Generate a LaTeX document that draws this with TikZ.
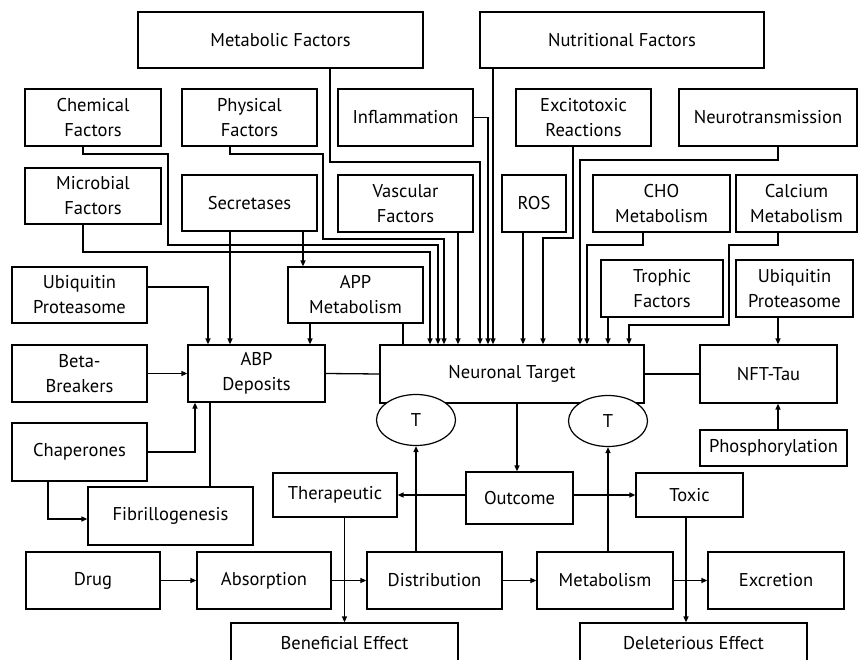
\documentclass[tikz,border=0pt]{standalone}
\usepackage{fontspec}
\setmainfont{PT Sans}
\usepackage{tikz}
\usetikzlibrary{positioning}
\usetikzlibrary{arrows.meta}
\usetikzlibrary{shapes.geometric}

\begin{document}
\begin{tikzpicture}
        [x=1pt,y=-1pt,
         font=\fontsize{18.5}{25}\selectfont,
         every node/.style={inner sep=1pt},
         blk/.style 2 args={draw,line width=1.2pt,fill=white,align=center,
           minimum width=#1,minimum height=#2},
         tee/.style={draw,ellipse,line width=1.2pt,fill=white,
           minimum width=79pt,minimum height=51pt},
         link/.style={line width=1.3pt},
         arr/.style={line width=1.3pt,-{Triangle[length=6pt,width=5pt]}}]
      \useasboundingbox (0,0) rectangle (864,660);
      \clip (0,0) rectangle (864,660);
      \node[blk={285pt}{56pt}] (metab)  at (280.5,40)  {Metabolic Factors};
      \node[blk={284pt}{56pt}] (nutri)  at (622,40)    {Nutritional Factors};
      \node[blk={136pt}{57pt}] (chem)   at (93,117.5)  {Chemical\\Factors};
      \node[blk={135pt}{57pt}] (phys)   at (249.5,117.5) {Physical\\Factors};
      \node[blk={135pt}{57pt}] (infl)   at (405.5,117.5) {Inflammation};
      \node[blk={135pt}{57pt}] (excit)  at (583.5,117.5) {Excitotoxic\\Reactions};
      \node[blk={178pt}{57pt}] (neurot) at (768,117.5) {Neurotransmission};
      \node[blk={136pt}{56pt}] (microb) at (93,196)    {Microbial\\Factors};
      \node[blk={135pt}{56pt}] (secr)   at (249.5,203) {Secretases};
      \node[blk={135pt}{57pt}] (vasc)   at (405.5,203.5) {Vascular\\Factors};
      \node[blk={64pt}{57pt}]  (ros)    at (534,203.5) {ROS};
      \node[blk={137pt}{57pt}] (cho)    at (661.5,203.5) {CHO\\Metabolism};
      \node[blk={121pt}{57pt}] (calc)   at (796.5,203.5) {Calcium\\Metabolism};
      \node[blk={122pt}{57pt}] (troph)  at (662,288.5) {Trophic\\Factors};
      \node[blk={117pt}{57pt}] (ubiR)   at (794.5,288.5) {Ubiquitin\\Proteasome};
      \node[blk={135pt}{56pt}] (ubiL)   at (79.5,295)  {Ubiquitin\\Proteasome};
      \node[blk={135pt}{56pt}] (app)    at (355.5,295) {APP\\Metabolism};
      \node[blk={135pt}{57pt}] (beta)   at (79.5,373.5) {Beta-\\Breakers};
      \node[blk={137pt}{57pt}] (abp)    at (256.5,373.5) {ABP\\Deposits};
      \node[blk={264pt}{58pt}] (neuro)  at (512,374)   {Neuronal Target};
      \node[blk={137pt}{58pt}] (nft)    at (768.5,374) {NFT-Tau};
      \node[tee] (tL) at (416,420) {T};
      \node[tee] (tR) at (608,421) {T};
      \node[blk={147pt}{36pt}] (phos)   at (773.5,448) {Phosphorylation};
      \node[blk={135pt}{58pt}] (chap)   at (79.5,452)  {Chaperones};
      \node[blk={165pt}{58pt}] (fibr)   at (170.5,516) {Fibrillogenesis};
      \node[blk={124pt}{44pt}] (ther)   at (335,495)   {Therapeutic};
      \node[blk={107pt}{52pt}] (outc)   at (519.5,498) {Outcome};
      \node[blk={107pt}{44pt}] (toxic)  at (689.5,495) {Toxic};
      \node[blk={134pt}{57pt}] (drug)   at (93,580.5)  {Drug};
      \node[blk={134pt}{57pt}] (absor)  at (264,580.5) {Absorption};
      \node[blk={135pt}{57pt}] (distr)  at (434.5,580.5) {Distribution};
      \node[blk={136pt}{57pt}] (metabo) at (605,580.5) {Metabolism};
      \node[blk={136pt}{57pt}] (excr)   at (776,580.5) {Excretion};
      \node[blk={227pt}{40pt}] (benef)  at (344.5,643) {Beneficial Effect};
      \node[blk={227pt}{40pt}] (delet)  at (693.5,643) {Deleterious Effect};

      \draw[arr] ([xshift=-10pt]microb.south) |- (430,252) -- ([xshift=-82pt]neuro.north);
      \draw[arr] ([xshift=-10pt]chem.south) |- (168,154) |- (438,245) -- ([xshift=-74pt]neuro.north);
      \draw[arr] ([xshift=-19.5pt]phys.south) |- (323,154) |- (444,239) -- ([xshift=-68pt]neuro.north);
      \draw[arr] ([xshift=52.5pt]vasc.south) -- ([xshift=-54pt]neuro.north);
      \draw[arr] ([xshift=49.5pt]metab.south) |- (480,162) -- ([xshift=-32pt]neuro.north);
      \draw[arr] (infl.east) -| ([xshift=-24pt]neuro.north);
      \draw[arr] ([xshift=-129pt]nutri.south) -- ([xshift=-19pt]neuro.north);
      \draw[arr] ([xshift=-11pt]ros.south) -- ([xshift=11pt]neuro.north);
      \draw[arr] ([xshift=-10.5pt]excit.south) |- (543,238) -- ([xshift=31pt]neuro.north);
      \draw[arr] ([xshift=10pt]neurot.south) |- (580,160) -- ([xshift=68pt]neuro.north);
      \draw[arr] ([xshift=-18.5pt]cho.south) |- (587,245) -- ([xshift=75pt]neuro.north);
      \draw[arr] ([xshift=-54pt]troph.south) -- ([xshift=96pt]neuro.north);
      \draw[arr] ([xshift=-18.5pt]calc.south) |- (729,245) |- (629,325) -- ([xshift=117pt]neuro.north);
      \draw[link] ([xshift=47.5pt]app.south) -- ([xshift=-109pt]neuro.north);

      \draw[arr] ([xshift=-19.5pt]secr.south) -- ([xshift=-26.5pt]abp.north);
      \draw[arr] ([xshift=53.5pt]secr.south) -- ([xshift=-52.5pt]app.north);
      \draw[arr] ([yshift=8pt]ubiL.east) -| ([xshift=-48.5pt]abp.north);
      \draw[arr] ([xshift=-45.5pt]app.south) -- ([xshift=53.5pt]abp.north);
      \draw[arr] (beta.east) -- (abp.west);
      \draw[arr] (chap.east) -| ([xshift=-61.5pt]abp.south);
      \draw[link] ([xshift=-46.5pt]abp.south) -- ([xshift=39.5pt]fibr.north);
      \draw[arr] ([xshift=-31.5pt]chap.south) |- ([yshift=-3pt]fibr.west);
      \draw[link] (abp.east) -- (neuro.west);
      \draw[link] (neuro.east) -- (nft.west);
      \draw[arr] ([xshift=-16.5pt]ubiR.south) -- ([xshift=9.5pt]nft.north);
      \draw[arr] ([xshift=4.5pt]phos.north) -- ([xshift=9.5pt]nft.south);

      \draw[arr] ([xshift=5pt]neuro.south) -- ([xshift=-2.5pt]outc.north);
      \draw[arr] ([yshift=3pt]outc.west) -- (ther.east);
      \draw[arr] ([yshift=3pt]outc.east) -- (toxic.west);
      \draw[arr] (tL.south |- distr.north) -- (tL.south);
      \draw[arr] (tR.south |- metabo.north) -- (tR.south);
      \draw[arr] (benef.north |- ther.south) -- (benef.north);
      \draw[arr] ([xshift=-3.5pt]toxic.south) -- ([xshift=-7.5pt]delet.north);
      \draw[arr] (drug.east) -- (absor.west);
      \draw[arr] (absor.east) -- (distr.west);
      \draw[arr] (distr.east) -- (metabo.west);
      \draw[arr] (metabo.east) -- (excr.west);
      \end{tikzpicture}
\end{document}
